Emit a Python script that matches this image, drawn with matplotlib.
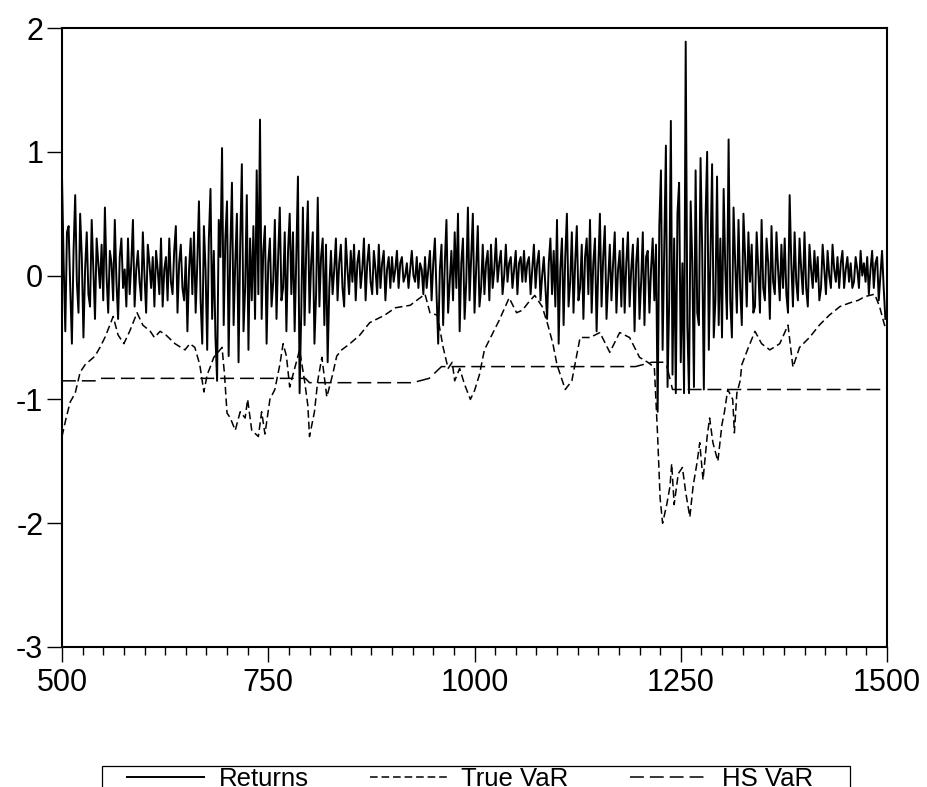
import numpy as np
import matplotlib
matplotlib.use("Agg")
import matplotlib.pyplot as plt
from matplotlib.ticker import MultipleLocator
from matplotlib.patches import Rectangle

plt.rcParams['font.family'] = ['Liberation Sans', 'DejaVu Sans']
plt.rcParams['lines.scale_dashes'] = False

# ---------------- data ----------------
ret_start, ret_step = 500, 2
returns = [
    0.80, 0.10, -0.45, 0.35, 0.40, -0.10, -0.55, 0.20, 0.65, -0.05, -0.30, 0.50, 0.15, -0.50, 0.05, 0.35, -0.15, -0.25, 0.45, 0.05,
    -0.35, 0.30, 0.10, -0.10, 0.25, -0.20, 0.55, 0.00, -0.30, 0.20, 0.10, -0.20, 0.45, -0.05, -0.35, 0.15, 0.30, -0.10, 0.05, -0.25,
    0.30, -0.15, 0.10, 0.45, -0.25, 0.05, 0.20, -0.05, -0.20, 0.35, 0.00, -0.30, 0.25, 0.10, -0.10, 0.15, -0.25, 0.20, 0.05, -0.15,
    0.30, -0.25, 0.05, 0.15, -0.20, 0.30, -0.05, -0.15, 0.20, 0.40, -0.30, 0.10, 0.25, -0.10, -0.20, 0.15, -0.45, 0.05, 0.30, -0.15,
    0.35, -0.30, 0.10, 0.60, -0.20, -0.55, 0.40, 0.05, -0.60, 0.30, 0.70, -0.35, 0.20, -0.50, -0.85, 0.45, 0.15, 1.03, -0.40, 0.30,
    0.60, -0.65, 0.20, 0.75, -0.40, 0.10, 0.50, -0.70, 0.25, 0.90, -0.45, -0.10, 0.65, -0.60, 0.30, -0.20, 0.40, -0.35, 0.85, -0.15,
    1.26, -0.35, 0.20, 0.40, -0.55, 0.10, 0.30, -0.25, -0.05, 0.45, -0.35, 0.15, 0.55, -0.20, -0.10, 0.35, -0.45, 0.20, 0.50, -0.15,
    0.35, -0.45, 0.15, 0.80, -0.95, -0.30, 0.55, -0.40, 0.20, 0.60, -0.30, 0.10, 0.35, -0.55, -0.15, 0.63, -0.25, 0.15, 0.30, -0.40,
    0.25, -0.70, -0.10, 0.20, -0.15, 0.05, 0.30, -0.20, 0.10, 0.25, -0.10, -0.25, 0.30, 0.05, -0.15, 0.20, -0.05, 0.25, -0.20, 0.10,
    0.20, -0.10, 0.05, 0.30, -0.20, 0.10, 0.25, -0.05, -0.15, 0.20, 0.05, -0.15, 0.25, -0.10, 0.10, 0.20, -0.20, 0.05, 0.15, -0.10,
    0.15, -0.05, 0.05, 0.20, -0.10, 0.10, 0.15, -0.05, 0.00, 0.10, -0.10, 0.05, 0.20, 0.00, -0.05, 0.15, -0.10, 0.10, 0.05, -0.15,
    0.15, -0.10, 0.05, 0.20, -0.20, 0.10, 0.30, -0.15, -0.55, 0.05, 0.25, -0.40, 0.10, 0.45, -0.30, -0.05, 0.20, -0.20, 0.35, -0.10,
    0.50, -0.45, 0.10, 0.30, -0.35, -0.05, 0.55, -0.20, 0.15, 0.50, -0.30, 0.05, 0.40, -0.25, -0.10, 0.25, -0.15, 0.10, 0.20, -0.20,
    0.25, -0.10, 0.05, 0.30, -0.05, 0.10, 0.20, -0.15, 0.00, 0.25, -0.05, 0.10, 0.15, -0.10, 0.05, 0.20, -0.15, 0.10, 0.15, -0.05,
    0.20, -0.05, 0.10, 0.15, -0.15, 0.05, 0.25, -0.10, 0.10, 0.20, -0.20, 0.00, 0.15, -0.10, -0.35, 0.10, 0.30, -0.15, 0.20, -0.25,
    0.45, -0.55, 0.05, 0.30, -0.40, 0.15, 0.50, -0.25, -0.05, 0.35, -0.30, 0.10, 0.40, -0.20, -0.10, 0.25, -0.35, 0.15, 0.30, -0.15,
    0.45, -0.30, 0.10, 0.30, -0.45, 0.05, 0.50, -0.25, 0.15, 0.40, -0.35, -0.05, 0.25, -0.20, 0.10, 0.35, -0.30, 0.05, 0.20, -0.25,
    0.30, -0.30, 0.10, 0.35, -0.25, 0.05, 0.25, -0.45, 0.10, 0.30, -0.35, -0.05, 0.35, -0.40, 0.15, 0.20, -0.30, 0.05, 0.30, -0.20,
    0.25, -1.10, 0.40, 0.85, -0.60, 0.20, 1.05, -0.90, -0.20, 1.25, -0.80, 0.30, -0.95, 0.50, 0.75, -0.70, 0.10, -0.95, 1.89, -0.40,
    -0.95, 0.60, 0.10, -0.90, 0.85, -0.30, -0.40, 0.95, 0.20, -0.92, 0.45, 1.00, -0.60, 0.15, 0.90, -0.50, -0.20, 0.80, -0.40, 0.30,
    -0.50, 0.70, 0.05, -0.35, 1.10, -0.20, -0.50, 0.55, 0.10, -0.30, 0.45, -0.10, -0.40, 0.50, 0.15, -0.25, 0.35, -0.05, 0.25, -0.30,
    -0.25, 0.35, 0.05, -0.30, 0.45, -0.10, -0.20, 0.30, 0.10, -0.35, 0.40, -0.05, -0.15, 0.35, 0.05, -0.20, 0.25, -0.10, 0.30, -0.15,
    -0.30, 0.65, 0.10, -0.25, 0.35, -0.05, -0.20, 0.30, 0.05, -0.15, 0.35, -0.10, -0.25, 0.25, 0.05, -0.10, 0.20, -0.05, 0.15, -0.20,
    -0.10, 0.25, 0.05, -0.15, 0.20, 0.00, -0.10, 0.25, 0.05, -0.05, 0.15, -0.10, 0.10, 0.20, -0.10, 0.05, 0.15, -0.05, 0.10, -0.10,
    -0.05, 0.15, 0.05, -0.10, 0.20, 0.00, 0.10, -0.05, 0.15, -0.15, 0.05, 0.20, -0.10, 0.10, 0.15, -0.20, 0.00, 0.20, -0.10, -0.35,
]

true_var_x = [500, 505, 510, 516, 522, 528, 540, 546, 552, 558, 562, 568, 575, 582, 588,
              591, 598, 607, 612, 619, 626, 637, 649, 655, 661, 667, 672, 676, 679, 684,
              689, 694, 697, 700, 704, 710, 716, 722, 725, 730, 738, 742, 746, 752, 758,
              764, 768, 772, 776, 782, 788, 794, 798, 800, 806, 810, 815, 821, 828, 833,
              839, 849, 861, 873, 891, 904, 922, 934, 940, 946, 955, 962, 968, 973, 976,
              982, 988, 995, 1000, 1006, 1012, 1018, 1030, 1042, 1051, 1058, 1065, 1073, 1082, 1089,
              1095, 1100, 1104, 1110, 1118, 1128, 1140, 1152, 1164, 1176, 1188, 1200, 1210, 1218, 1222,
              1225, 1228, 1233, 1237, 1239, 1242, 1247, 1252, 1256, 1261, 1265, 1270, 1273, 1277, 1282,
              1285, 1289, 1295, 1300, 1303, 1307, 1313, 1315, 1318, 1322, 1324, 1332, 1340, 1348, 1358,
              1370, 1380, 1386, 1394, 1406, 1418, 1430, 1443, 1455, 1465, 1473, 1485, 1491, 1497, 1500]
true_var = [-1.30, -1.15, -1.02, -0.95, -0.78, -0.72, -0.65, -0.58, -0.50, -0.40, -0.33, -0.48, -0.55, -0.45, -0.35,
            -0.30, -0.40, -0.45, -0.50, -0.45, -0.48, -0.55, -0.60, -0.55, -0.58, -0.72, -0.94, -0.80, -0.75, -0.66,
            -0.62, -0.58, -0.80, -1.11, -1.15, -1.25, -1.10, -1.15, -1.00, -1.25, -1.30, -1.10, -1.28, -1.00, -0.92,
            -0.72, -0.55, -0.65, -0.90, -0.75, -0.60, -0.85, -1.05, -1.30, -1.10, -0.85, -0.66, -0.98, -0.80, -0.65,
            -0.60, -0.55, -0.48, -0.38, -0.32, -0.26, -0.24, -0.18, -0.15, -0.30, -0.32, -0.58, -0.75, -0.70, -0.85,
            -0.75, -0.88, -1.00, -0.93, -0.80, -0.60, -0.52, -0.36, -0.18, -0.30, -0.28, -0.22, -0.16, -0.25, -0.40,
            -0.55, -0.72, -0.80, -0.92, -0.85, -0.50, -0.50, -0.46, -0.62, -0.46, -0.50, -0.66, -0.70, -0.74, -1.30,
            -1.80, -2.00, -1.85, -1.70, -1.52, -1.85, -1.60, -1.55, -1.75, -1.95, -1.70, -1.50, -1.35, -1.65, -1.30,
            -1.15, -1.35, -1.50, -1.20, -1.10, -0.92, -1.00, -1.27, -0.95, -0.85, -0.72, -0.58, -0.45, -0.55, -0.60,
            -0.55, -0.40, -0.74, -0.58, -0.50, -0.40, -0.32, -0.25, -0.22, -0.20, -0.17, -0.15, -0.25, -0.40, -0.42]

hs_var_x = [500, 540, 545, 795, 800, 925, 945, 960, 1195, 1215, 1232, 1240, 1500]
hs_var = [-0.85, -0.85, -0.83, -0.83, -0.865, -0.865, -0.83, -0.735, -0.735, -0.70, -0.70, -0.92, -0.92]

series_labels = ["Returns", "True VaR", "HS VaR"]
x_ticks = [500, 750, 1000, 1250, 1500]
y_ticks = [-3, -2, -1, 0, 1, 2]

# ---------------- plot ----------------
W, H = 927, 787
fig = plt.figure(figsize=(W / 100, H / 100), dpi=100)
ax = fig.add_axes([62 / W, 1 - 647 / H, (887 - 62) / W, (647 - 28) / H])

ret_x = ret_start + ret_step * np.arange(len(returns))
ax.plot(ret_x, returns, color='black', lw=1.4, label=series_labels[0])
ax.plot(true_var_x, true_var, color='black', lw=1.1, dashes=(5.5, 2.8), label=series_labels[1])
ax.plot(hs_var_x, hs_var, color='black', lw=1.1, dashes=(10, 4.3), label=series_labels[2])

ax.set_xlim(500, 1500)
ax.set_ylim(-3, 2)
ax.set_xticks(x_ticks)
ax.set_yticks(y_ticks)
ax.set_yticklabels([str(v) for v in y_ticks])
ax.xaxis.set_minor_locator(MultipleLocator(25))
ax.tick_params(axis='both', which='major', direction='out', length=11, width=1.0,
               labelsize=22, color='black', pad=4)
ax.tick_params(axis='x', which='minor', direction='out', length=5.4, width=1.0)
ax.tick_params(axis='y', which='minor', left=False)
ax.tick_params(axis='y', pad=2.5)
for s in ax.spines.values():
    s.set_linewidth(1.5)
    s.set_color('black')

leg = fig.legend(loc='center', bbox_to_anchor=(470 / W, 1 - 779 / H), ncol=3,
                 fontsize=18.5, frameon=False, handlelength=3.0, handletextpad=0.55,
                 columnspacing=2.4, borderpad=0.0, borderaxespad=0)
fig.add_artist(Rectangle((102 / W, 1 - 800 / H), (850 - 102) / W, (800 - 766) / H,
                         transform=fig.transFigure, fill=False, edgecolor='black',
                         linewidth=0.9, clip_on=False))

fig.savefig("out.png", dpi=100)
